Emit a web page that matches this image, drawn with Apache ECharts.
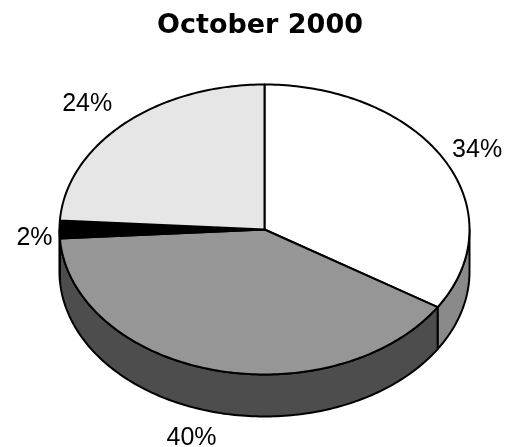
<!DOCTYPE html>
<html>
<head>
<meta charset="utf-8">
<style>
html,body{margin:0;padding:0;background:#fff;}
#main{width:509px;height:447px;}
</style>
<script src="https://cdn.jsdelivr.net/npm/echarts@6/dist/echarts.min.js"></script>
</head>
<body>
<div id="main"></div>
<script>
var title_text = 'October 2000';
var slice_values = [34, 40, 2, 24];				//clockwise from the top
var slice_labels = ['34%', '40%', '2%', '24%'];
var top_colors = ['#ffffff', '#969696', '#000000', '#e6e6e6'];
var side_colors = ['#8a8a8a', '#4d4d4d', '#000000', '#737373'];
var label_offsets = [[33, -10], [-22, 68], [-25, 9], [-37, -20]];	//from the rim point at the middle of the slice

var cx = 264.5, cy = 229.5, rx = 205, ry = 145, depth = 42;
var total = slice_values.reduce(function(a, b){ return a + b; }, 0);

//angle in degrees, clockwise from the top
function rim(deg, drop){
	var r = deg * Math.PI / 180;
	return [cx + rx * Math.sin(r), cy - ry * Math.cos(r) + (drop || 0)];
}
function sliceRange(index){
	var before = 0;
	for(var i = 0; i < index; i++){
		before += slice_values[i];
	}
	return [before / total * 360, (before + slice_values[index]) / total * 360];
}
function arcPoints(from, to, drop){
	var pts = [];
	var steps = Math.max(2, Math.ceil(Math.abs(to - from)));
	for(var i = 0; i <= steps; i++){
		pts.push(rim(from + (to - from) * i / steps, drop));
	}
	return pts;
}
var line_style = {stroke: '#000', lineWidth: 2, lineJoin: 'round'};

//the wall below the rim, only the front half of the ellipse shows it
function renderSide(params){
	var range = sliceRange(params.dataIndex);
	var from = Math.max(range[0], 90), to = Math.min(range[1], 270);
	if(from >= to){
		return {type: 'group', children: []};
	}
	var pts = arcPoints(from, to, 0).concat(arcPoints(to, from, depth));
	return {
		type: 'polygon',
		shape: {points: pts},
		style: Object.assign({fill: side_colors[params.dataIndex]}, line_style)
	};
}
function renderTop(params){
	var range = sliceRange(params.dataIndex);
	var pts = [[cx, cy]].concat(arcPoints(range[0], range[1], 0));
	var mid = rim((range[0] + range[1]) / 2, 0);
	var off = label_offsets[params.dataIndex];
	return {
		type: 'group',
		children: [{
			type: 'polygon',
			shape: {points: pts},
			style: Object.assign({fill: top_colors[params.dataIndex]}, line_style)
		},{
			type: 'text',
			x: mid[0] + off[0],
			y: mid[1] + off[1],
			style: {
				text: slice_labels[params.dataIndex],
				fill: '#000',
				font: '25px "Liberation Sans", Arial, sans-serif',
				align: 'center',
				verticalAlign: 'middle'
			}
		}]
	};
}

var chart = echarts.init(document.getElementById('main'), null, {renderer: 'canvas'});
chart.setOption({
	animation: false,
	backgroundColor: '#ffffff',
	title: {
		text: title_text,
		left: 255,
		top: 7,
		textAlign: 'center',
		textStyle: {
			color: '#000',
			fontFamily: '"DejaVu Sans", Verdana, sans-serif',
			fontWeight: 'bold',
			fontSize: 27
		}
	},
	series: [{
		type: 'custom',
		coordinateSystem: 'none',
		silent: true,
		clip: false,
		renderItem: renderSide,
		data: slice_values
	},{
		type: 'custom',
		coordinateSystem: 'none',
		silent: true,
		clip: false,
		renderItem: renderTop,
		data: slice_values
	}]
});
</script>
</body>
</html>
